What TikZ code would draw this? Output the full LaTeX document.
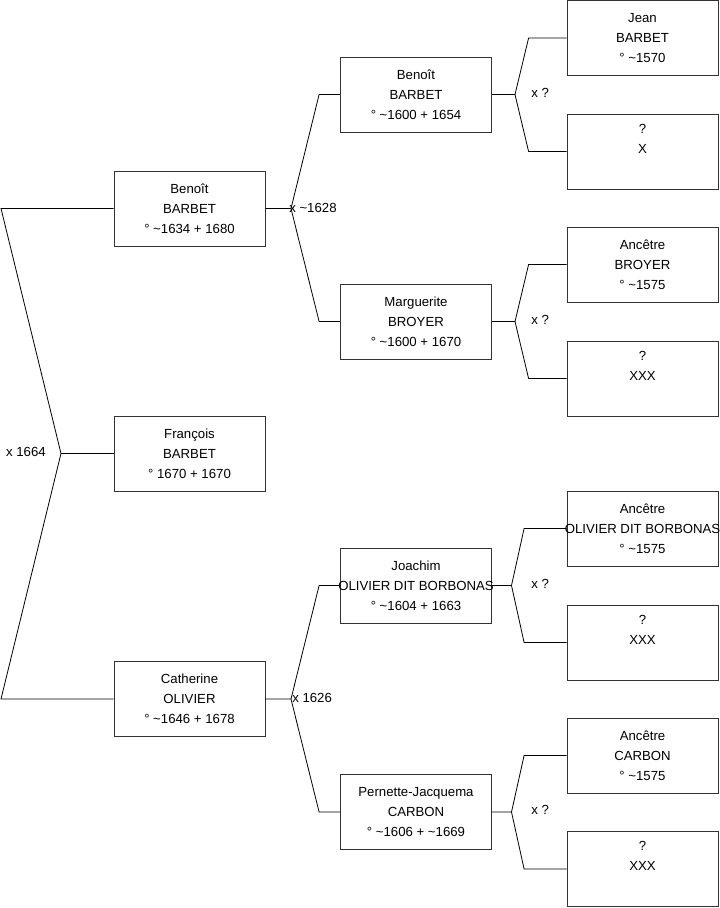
\documentclass[tikz,border=0pt]{standalone}
\usepackage{fontspec}
\setmainfont{Liberation Sans}
\usetikzlibrary{calc}

\begin{document}
\begin{tikzpicture}[x=0.75pt,y=-0.75pt,
  pers/.style={draw=black!80,fill=white,line width=0.6pt,align=center,
               font=\fontsize{9.9}{15}\selectfont,inner sep=0pt,
               minimum width=113.25pt,minimum height=56.25pt},
  ln/.style={draw=black,line width=0.6pt},
  lb/.style={font=\fontsize{9.9}{11}\selectfont,inner sep=0pt}
]
\useasboundingbox (0,0) rectangle (719,908);

% generation 1
\node[pers] (benoit) at (189.5,208.5) {Beno\^{\i}t\\BARBET\\° \textasciitilde1634 + 1680};
\node[pers] (francois) at (189.5,453.5) {François\\BARBET\\° 1670 + 1670};
\node[pers] (catherine) at (189.5,699) {Catherine\\OLIVIER\\° \textasciitilde1646 + 1678};

% generation 2
\node[pers] (benoitp) at (416,94.5) {Beno\^{\i}t\\BARBET\\° \textasciitilde1600 + 1654};
\node[pers] (marguerite) at (416,321.5) {Marguerite\\BROYER\\° \textasciitilde1600 + 1670};
\node[pers] (joachim) at (416,585.5) {Joachim\\\makebox[0pt]{OLIVIER DIT BORBONAS}\\° \textasciitilde1604 + 1663};
\node[pers] (pernette) at (416,812) {Pernette-Jacquema\\CARBON\\° \textasciitilde1606 + \textasciitilde1669};

% generation 3
\node[pers] (jean) at (642.5,38) {Jean\\BARBET\\° \textasciitilde1570};
\node[pers] (inca) at (642.5,151.5) {?\\X\\\strut};
\node[pers] (ancbroyer) at (642.5,264.5) {Ancêtre\\BROYER\\° \textasciitilde1575};
\node[pers] (incb) at (642.5,378.5) {?\\XXX\\\strut};
\node[pers] (ancolivier) at (642.5,528.5) {Ancêtre\\\makebox[0pt]{OLIVIER DIT BORBONAS}\\° \textasciitilde1575};
\node[pers] (incc) at (642.5,642.5) {?\\XXX\\\strut};
\node[pers] (anccarbon) at (642.5,755.5) {Ancêtre\\CARBON\\° \textasciitilde1575};
\node[pers] (incd) at (642.5,869) {?\\XXX\\\strut};

% junctions
\coordinate (lt) at (1,208.5);
\coordinate (lbot) at (1,699);
\coordinate (j0) at (61,453.5);
\coordinate (j1) at (291,208.5);
\coordinate (j2) at (291,699);
\coordinate (ja) at (515,94.5);
\coordinate (jb) at (515,321.5);
\coordinate (jc) at (511.5,585.5);
\coordinate (jd) at (511.5,812);

% parents of François
\draw[ln] (benoit.west) -- (lt) -- (j0) -- (lbot) -- (catherine.west);
\draw[ln] (j0) -- (francois.west);
\node[lb,anchor=east] at ($(j0)+(-15,-2)$) {x 1664};

% parents of Benoît and Catherine
\draw[ln] (benoit.east) -- (j1) -- ($(benoitp.west)+(-21,0)$) -- (benoitp.west);
\draw[ln] (j1) -- ($(marguerite.west)+(-21,0)$) -- (marguerite.west);
\node[lb,anchor=west] at ($(j1)+(-2,-1)$) {x \textasciitilde1628};
\draw[ln] (catherine.east) -- (j2) -- ($(joachim.west)+(-21,0)$) -- (joachim.west);
\draw[ln] (j2) -- ($(pernette.west)+(-21,0)$) -- (pernette.west);
\node[lb,anchor=west] at ($(j2)+(1,-1)$) {x 1626};

% grandparents
\draw[ln] (benoitp.east) -- (ja) -- ($(jean.west)+(-38,0)$) -- (jean.west);
\draw[ln] (ja) -- ($(inca.west)+(-38,0)$) -- (inca.west);
\node[lb,anchor=west] at ($(ja)+(16,-2)$) {x ?};
\draw[ln] (marguerite.east) -- (jb) -- ($(ancbroyer.west)+(-38,0)$) -- (ancbroyer.west);
\draw[ln] (jb) -- ($(incb.west)+(-38,0)$) -- (incb.west);
\node[lb,anchor=west] at ($(jb)+(16,-2)$) {x ?};
\draw[ln] (joachim.east) -- (jc) -- ($(ancolivier.west)+(-42.5,0)$) -- (ancolivier.west);
\draw[ln] (jc) -- ($(incc.west)+(-42.5,0)$) -- (incc.west);
\node[lb,anchor=west] at ($(jc)+(19.5,-2)$) {x ?};
\draw[ln] (pernette.east) -- (jd) -- ($(anccarbon.west)+(-42.5,0)$) -- (anccarbon.west);
\draw[ln] (jd) -- ($(incd.west)+(-42.5,0)$) -- (incd.west);
\node[lb,anchor=west] at ($(jd)+(19.5,-2)$) {x ?};
\end{tikzpicture}
\end{document}
